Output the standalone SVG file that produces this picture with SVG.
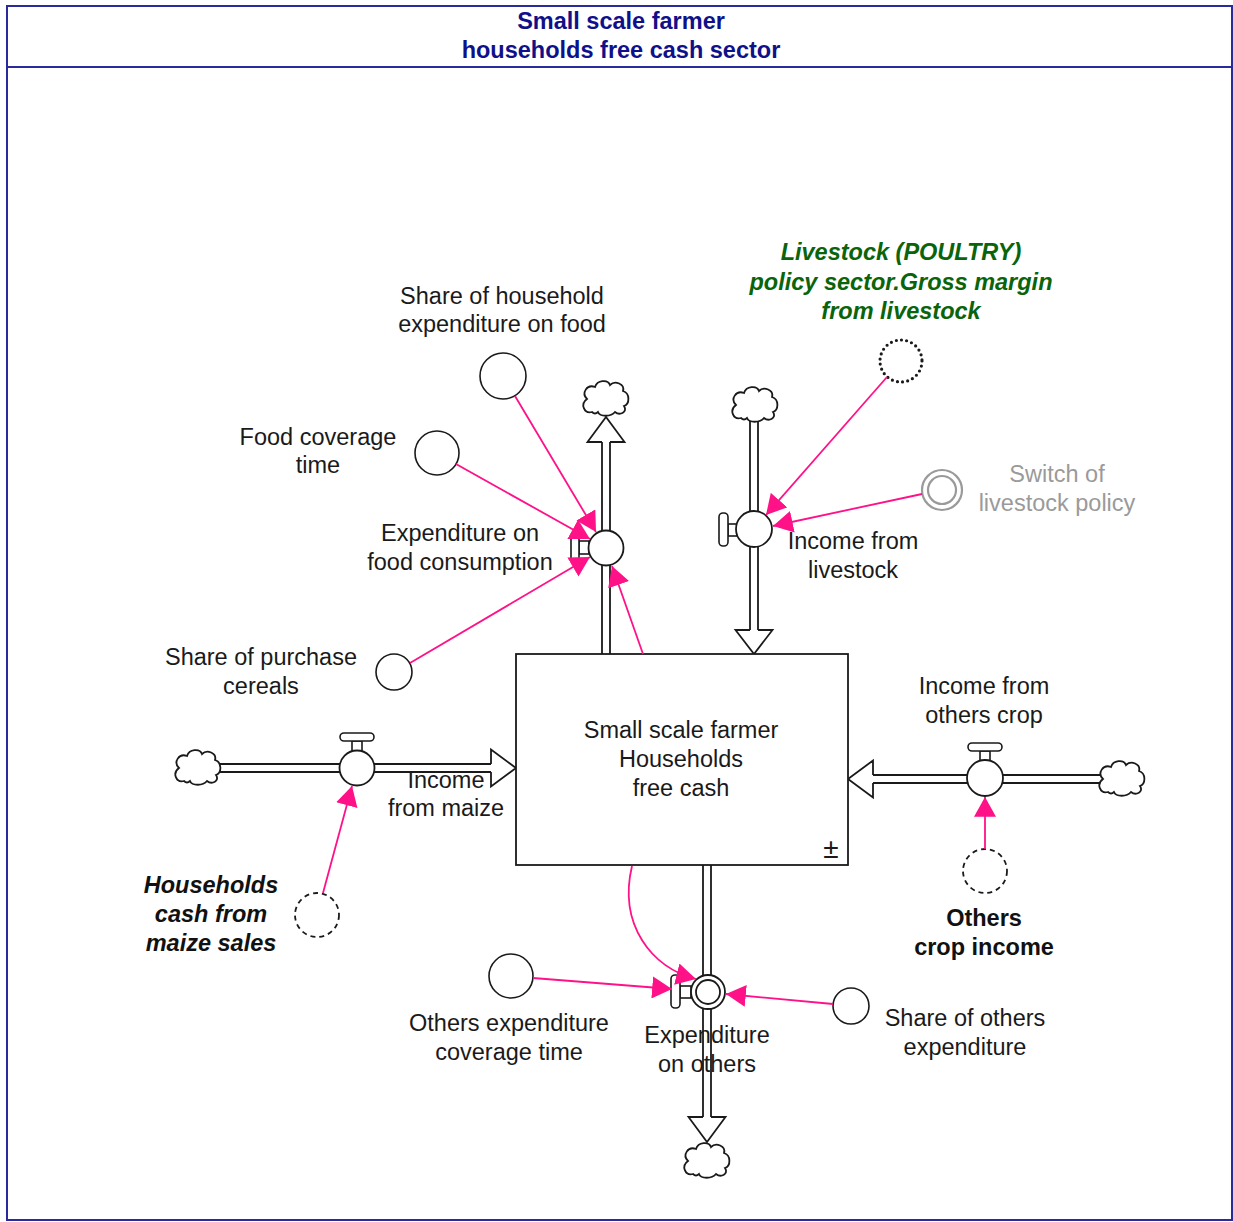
<svg xmlns="http://www.w3.org/2000/svg" xmlns:xlink="http://www.w3.org/1999/xlink" width="1233" height="1222" viewBox="0 0 1233 1222">
  <style>
    text { font-family: "Liberation Sans", Arial, sans-serif; font-size: 23.5px; fill: #1a1a1a; text-anchor: middle; }
    .title { font-weight: bold; fill: #10108a; }
    .ghost { font-weight: bold; font-style: italic; fill: #0a640a; }
    .input { font-weight: bold; font-style: italic; fill: #111; }
    .bold { font-weight: bold; fill: #111; }
    .gray { fill: #9a9a9a; }
    .frame { fill: none; stroke: #2a2a9a; stroke-width: 2; }
    .pipe { stroke: #1a1a1a; stroke-width: 1.8; fill: none; }
    .head { fill: #fff; stroke: #1a1a1a; stroke-width: 1.8; stroke-linejoin: miter; }
    .valve { fill: #fff; stroke: #1a1a1a; stroke-width: 1.8; }
    .handle { fill: #fff; stroke: #1a1a1a; stroke-width: 1.6; }
    .aux { fill: #fff; stroke: #1a1a1a; stroke-width: 1.6; }
    .dashed { fill: #fff; stroke: #1a1a1a; stroke-width: 1.8; stroke-dasharray: 5 4; }
    .dotted { fill: #fff; stroke: #1a1a1a; stroke-width: 3.2; stroke-dasharray: 0 5.2; stroke-linecap: round; }
    .switch { fill: #fff; stroke: #9a9a9a; stroke-width: 2.2; }
    .stock { fill: #fff; stroke: #1a1a1a; stroke-width: 1.8; }
    .cloud { fill: #fff; stroke: #1a1a1a; stroke-width: 1.8; }
    .link { stroke: #ff1188; stroke-width: 1.8; fill: none; marker-end: url(#arr); }
  </style>
  <defs>
    <marker id="arr" markerUnits="userSpaceOnUse" markerWidth="20" markerHeight="22" viewBox="0 0 18 20" refX="18" refY="10" orient="auto">
      <path d="M0,0 L18,10 L0,20 Z" fill="#ff1188"/>
    </marker>
    <path id="cloud" class="cloud" d="M-14,14 C-22,16 -26,6 -19,1 C-25,-5 -19,-14 -11,-11 C-9,-18 2,-19 4,-13 C9,-18 19,-14 17,-7 C24,-5 24,6 18,8 C22,14 14,18 9,14 C5,19 -6,19 -8,14 C-10,16 -12,16 -14,14 Z"/>
  </defs>

  <!-- sector frame with title band -->
  <g id="sector-frame">
    <rect class="frame" x="7" y="6" width="1225" height="1214"/>
    <line class="frame" x1="7" y1="67" x2="1232" y2="67"/>
    <text class="title" x="621" y="29">Small scale farmer</text>
    <text class="title" x="621" y="58">households free cash sector</text>
  </g>

  <!-- flow labels sit underneath the pipes -->
  <g id="flow-labels">
    <text x="460" y="541">Expenditure on</text>
    <text x="460" y="570">food consumption</text>
    <text x="853" y="549">Income from</text>
    <text x="853" y="578">livestock</text>
    <text x="446" y="788">Income</text>
    <text x="446" y="816">from maize</text>
    <text x="984" y="694">Income from</text>
    <text x="984" y="723">others crop</text>
    <text x="707" y="1043">Expenditure</text>
    <text x="707" y="1072">on others</text>
  </g>

  <!-- flow pipes (two rails each), open-based arrowheads and clouds -->
  <g id="flows">
    <!-- Expenditure on food consumption: stock -> cloud (up) -->
    <g id="flow-food">
      <path class="pipe" d="M602,654 V442 M610,654 V442"/>
      <path class="head" d="M602,442 H587.5 L606,417 L624.5,442 H610"/>
      <use href="#cloud" x="606" y="398"/>
    </g>
    <!-- Income from livestock: cloud -> stock (down) -->
    <g id="flow-livestock">
      <path class="pipe" d="M750,420 V630 M758,420 V630"/>
      <path class="head" d="M750,630 H735.5 L754,654 L772.5,630 H758"/>
      <use href="#cloud" x="755" y="404"/>
    </g>
    <!-- Income from maize: cloud -> stock (right) -->
    <g id="flow-maize">
      <path class="pipe" d="M219,764 H491 M219,772 H491"/>
      <path class="head" d="M491,764 V749.5 L516,768 L491,786.5 V772"/>
      <use href="#cloud" x="198" y="767"/>
    </g>
    <!-- Income from others crop: cloud -> stock (left) -->
    <g id="flow-others-crop">
      <path class="pipe" d="M1101,775 H873 M1101,783 H873"/>
      <path class="head" d="M873,775 V760.5 L848,779 L873,797.5 V783"/>
      <use href="#cloud" x="1122" y="778"/>
    </g>
    <!-- Expenditure on others: stock -> cloud (down) -->
    <g id="flow-others-exp">
      <path class="pipe" d="M703,865 V1117 M711,865 V1117"/>
      <path class="head" d="M703,1117 H688.5 L707,1142 L725.5,1117 H711"/>
      <use href="#cloud" x="707" y="1160"/>
    </g>
  </g>

  <!-- stock -->
  <g id="stock-free-cash">
    <rect class="stock" x="516" y="654" width="332" height="211"/>
    <text x="681" y="738">Small scale farmer</text>
    <text x="681" y="767">Households</text>
    <text x="681" y="796">free cash</text>
    <text x="831" y="858" style="font-size:28px">±</text>
  </g>

  <!-- valves -->
  <g id="valve-food">
    <rect class="handle" x="579" y="541" width="10" height="13"/>
    <rect class="handle" x="571" y="532" width="8" height="32" rx="4"/>
    <circle class="valve" cx="606" cy="548" r="17.5"/>
  </g>
  <g id="valve-livestock">
    <rect class="handle" x="728" y="524" width="9" height="12"/>
    <rect class="handle" x="719" y="513" width="9" height="33" rx="4"/>
    <circle class="valve" cx="754" cy="529" r="18"/>
  </g>
  <g id="valve-maize">
    <rect class="handle" x="352" y="741" width="10" height="10"/>
    <rect class="handle" x="340" y="733" width="34" height="8" rx="4"/>
    <circle class="valve" cx="357" cy="768" r="17.5"/>
  </g>
  <g id="valve-others-crop">
    <rect class="handle" x="980" y="751" width="10" height="10"/>
    <rect class="handle" x="968" y="743" width="34" height="8" rx="4"/>
    <circle class="valve" cx="985" cy="778" r="18"/>
  </g>
  <g id="valve-others-exp">
    <rect class="handle" x="680" y="986" width="11" height="12"/>
    <rect class="handle" x="671" y="975" width="9" height="33" rx="4"/>
    <circle class="valve" cx="708" cy="992" r="17"/>
    <circle class="valve" cx="708" cy="992" r="12"/>
  </g>

  <!-- auxiliaries -->
  <g id="aux-share-food">
    <circle class="aux" cx="503" cy="376" r="23"/>
    <text x="502" y="304">Share of household</text>
    <text x="502" y="332">expenditure on food</text>
  </g>
  <g id="aux-food-coverage">
    <circle class="aux" cx="437" cy="453" r="22"/>
    <text x="318" y="445">Food coverage</text>
    <text x="318" y="473">time</text>
  </g>
  <g id="aux-share-cereals">
    <circle class="aux" cx="394" cy="672" r="18"/>
    <text x="261" y="665">Share of purchase</text>
    <text x="261" y="694">cereals</text>
  </g>
  <g id="ghost-livestock-margin">
    <circle class="dotted" cx="901" cy="361" r="21"/>
    <text class="ghost" x="901" y="260">Livestock (POULTRY)</text>
    <text class="ghost" x="901" y="290">policy sector.Gross margin</text>
    <text class="ghost" x="901" y="319">from livestock</text>
  </g>
  <g id="switch-livestock">
    <circle class="switch" cx="942" cy="490" r="20"/>
    <circle class="switch" cx="942" cy="490" r="14"/>
    <text class="gray" x="1057" y="482">Switch of</text>
    <text class="gray" x="1057" y="511">livestock policy</text>
  </g>
  <g id="input-maize-cash">
    <circle class="dashed" cx="317" cy="915" r="22"/>
    <text class="input" x="211" y="893">Households</text>
    <text class="input" x="211" y="922">cash from</text>
    <text class="input" x="211" y="951">maize sales</text>
  </g>
  <g id="input-others-crop">
    <circle class="dashed" cx="985" cy="871" r="22"/>
    <text class="bold" x="984" y="926">Others</text>
    <text class="bold" x="984" y="955">crop income</text>
  </g>
  <g id="aux-others-coverage">
    <circle class="aux" cx="511" cy="976" r="22"/>
    <text x="509" y="1031">Others expenditure</text>
    <text x="509" y="1060">coverage time</text>
  </g>
  <g id="aux-share-others">
    <circle class="aux" cx="851" cy="1006" r="18"/>
    <text x="965" y="1026">Share of others</text>
    <text x="965" y="1055">expenditure</text>
  </g>

  <!-- information links -->
  <g id="connectors">
    <path class="link" d="M515,396 L596,532"/>
    <path class="link" d="M456,464 L590,539"/>
    <path class="link" d="M410,663 L590,557"/>
    <path class="link" d="M643,654 L612,566"/>
    <path class="link" d="M887,377 L766,515"/>
    <path class="link" d="M922,494 L773,526"/>
    <path class="link" d="M323,893 L352,786"/>
    <path class="link" d="M985,849 L985,797"/>
    <path class="link" d="M632,866 C618,925 652,968 696,979"/>
    <path class="link" d="M533,978 L672,989"/>
    <path class="link" d="M833,1004 L726,994"/>
  </g>
</svg>
